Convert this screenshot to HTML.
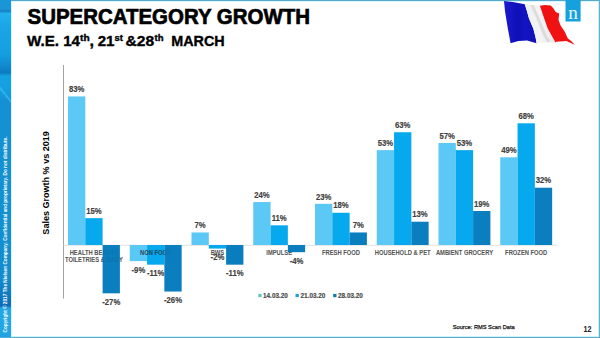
<!DOCTYPE html>
<html><head><meta charset="utf-8">
<style>
html,body{margin:0;padding:0;}
body{width:600px;height:338px;overflow:hidden;background:#fff;position:relative;font-family:"Liberation Sans",sans-serif;}
.abs{position:absolute;}
.cl{font-size:6.4px;font-weight:bold;fill:#555555;stroke:#555555;stroke-width:0.05px;text-anchor:middle;}
.vl{font-size:8.2px;font-weight:bold;fill:#404040;stroke:#404040;stroke-width:0.15px;text-anchor:middle;}
</style></head><body>
<svg class="abs" style="left:0;top:0;font-family:'Liberation Sans',sans-serif" width="600" height="338" viewBox="0 0 600 338">
<defs>
<linearGradient id="strip" x1="0" y1="0" x2="0" y2="338" gradientUnits="userSpaceOnUse">
<stop offset="0" stop-color="#1a96d6"/>
<stop offset="0.027" stop-color="#1a96d6"/>
<stop offset="0.033" stop-color="#1582c4"/>
<stop offset="0.04" stop-color="#22b0ee"/>
<stop offset="0.08" stop-color="#1aa6e6"/>
<stop offset="0.16" stop-color="#14a0e0"/>
<stop offset="0.2" stop-color="#0f86cc"/>
<stop offset="0.215" stop-color="#0c7cc0"/>
<stop offset="0.225" stop-color="#16a2e2"/>
<stop offset="0.26" stop-color="#14a0e0"/>
<stop offset="0.3" stop-color="#1590d4"/>
<stop offset="0.6" stop-color="#1490d0"/>
<stop offset="0.82" stop-color="#138cce"/>
<stop offset="0.905" stop-color="#0c6cb8"/>
<stop offset="0.912" stop-color="#22a6e4"/>
<stop offset="1" stop-color="#20a4e2"/>
</linearGradient>
<linearGradient id="bl" x1="0" y1="0" x2="1" y2="0">
<stop offset="0" stop-color="#1a1ad0"/>
<stop offset="0.4" stop-color="#1010b8"/>
<stop offset="0.7" stop-color="#1414c4"/>
<stop offset="1" stop-color="#1010b0"/>
</linearGradient>
<linearGradient id="wh" x1="0" y1="0" x2="1" y2="0">
<stop offset="0" stop-color="#f0f0f0"/>
<stop offset="0.5" stop-color="#f4f4f4"/>
<stop offset="1" stop-color="#e8e8e8"/>
</linearGradient>
</defs>
<rect x="0" y="0" width="600" height="338" fill="#fff"/>
<rect x="0" y="0" width="11" height="338" fill="url(#strip)"/>
<path d="M0,86 L11,100 L11,103 L0,90 Z" fill="#3cc0f4" opacity="0.6"/>
<rect x="11" y="0" width="1" height="338" fill="#d4f6ff"/>
<rect x="11" y="0" width="589" height="1" fill="#5aa8d0"/>
<rect x="12" y="1" width="586" height="1" fill="#d4f8ff"/>
<rect x="598" y="1" width="1" height="336" fill="#c4f2fc"/>
<rect x="599" y="0" width="1" height="338" fill="#5ab0d8"/>
<rect x="11" y="336" width="588" height="1" fill="#c8f6fc"/>
<rect x="0" y="337" width="600" height="1" fill="#5aa9cf"/>
<text transform="translate(7.4,332.5) rotate(-90)" font-size="5.2" font-weight="bold" fill="#ffffff" textLength="196" lengthAdjust="spacingAndGlyphs">Copyright © 2017 The Nielsen Company. Confidential and proprietary. Do not distribute.</text>
<text x="27.5" y="23.6" font-size="22.5" font-weight="bold" fill="#000" stroke="#000" stroke-width="0.7" textLength="282.5" lengthAdjust="spacingAndGlyphs">SUPERCATEGORY GROWTH</text>
<text x="27.0" y="45.8" font-size="13.8" font-weight="bold" fill="#000" stroke="#000" stroke-width="0.35" textLength="32.0" lengthAdjust="spacingAndGlyphs">W.E.</text>
<text x="63.2" y="45.8" font-size="13.8" font-weight="bold" fill="#000" stroke="#000" stroke-width="0.35" textLength="16.8" lengthAdjust="spacingAndGlyphs">14</text>
<text x="80.0" y="41" font-size="8.5" font-weight="bold" fill="#000" stroke="#000" stroke-width="0.35" textLength="9.6" lengthAdjust="spacingAndGlyphs">th</text>
<text x="89.4" y="45.8" font-size="13.8" font-weight="bold" fill="#000" stroke="#000" stroke-width="0.35" textLength="4.5" lengthAdjust="spacingAndGlyphs">,</text>
<text x="97.7" y="45.8" font-size="13.8" font-weight="bold" fill="#000" stroke="#000" stroke-width="0.35" textLength="16.8" lengthAdjust="spacingAndGlyphs">21</text>
<text x="114.4" y="41" font-size="8.5" font-weight="bold" fill="#000" stroke="#000" stroke-width="0.35" textLength="8.4" lengthAdjust="spacingAndGlyphs">st</text>
<text x="125.6" y="45.8" font-size="13.8" font-weight="bold" fill="#000" stroke="#000" stroke-width="0.35" textLength="28.6" lengthAdjust="spacingAndGlyphs">&amp;28</text>
<text x="154.6" y="41" font-size="8.5" font-weight="bold" fill="#000" stroke="#000" stroke-width="0.35" textLength="9.0" lengthAdjust="spacingAndGlyphs">th</text>
<text x="171.3" y="45.8" font-size="13.8" font-weight="bold" fill="#000" stroke="#000" stroke-width="0.35" textLength="53.4" lengthAdjust="spacingAndGlyphs">MARCH</text>
<!-- flag -->
<path d="M504,1.1 L512.8,2.1 L524.8,4.3 L527,11.3 L529,18.4 L533.3,28.4 L535.5,36.9 L536.6,43.3 L527,40.4 L518.4,41.1 L510.6,43.3 L507.8,28.4 L505,11.3 Z" fill="url(#bl)"/>
<path d="M524.8,4.3 L539.9,5.7 L542.7,14.2 L547.7,28.4 L552.7,37.6 L555.5,42.6 L546.3,42.6 L536.6,43.3 L535.5,36.9 L533.3,28.4 L529,18.4 L527,11.3 Z" fill="url(#wh)"/>
<path d="M532,5.2 Q538,18 542,28.4 T549,41.5" stroke="#c4c4c4" stroke-width="3" fill="none" opacity="0.45"/>
<path d="M539.9,5.7 L545,5 L550.7,5.4 L553.5,8.5 L555.6,12 L559.2,13.5 L558.5,19.9 L560.6,25.5 L564.9,31.9 L567.7,38.3 L572,41.8 L574.8,44.7 L566.3,41.1 L556.3,41.8 L555.5,42.6 L552.7,37.6 L547.7,28.4 L542.7,14.2 Z" fill="#f01212"/>
<!-- nielsen -->
<rect x="565.5" y="0" width="15.1" height="21.5" fill="#15a0de"/>
<text x="573" y="19.2" font-size="19" style="font-family:'Liberation Serif',serif" fill="#e8f8ff" text-anchor="middle" textLength="9.6" lengthAdjust="spacingAndGlyphs">n</text>
<!-- axis -->
<rect x="63" y="65" width="0.8" height="233.5" fill="#8c8c8c"/>
<rect x="63.4" y="244.8" width="494" height="0.8" fill="#d9d9d9"/>
<text transform="translate(48.8,182.9) rotate(-90)" font-size="9" font-weight="bold" fill="#000" text-anchor="middle" textLength="103.5" lengthAdjust="spacingAndGlyphs">Sales  Growth % vs 2019</text>
<clipPath id="lm"><rect x="68.00" y="96.43" width="17.30" height="148.57" fill="#5bc8f6"/><rect x="85.30" y="218.15" width="17.30" height="26.85" fill="#07a9ee"/><rect x="129.75" y="245.00" width="17.30" height="16.11" fill="#5bc8f6"/><rect x="147.05" y="245.00" width="17.30" height="19.69" fill="#07a9ee"/><rect x="191.50" y="232.47" width="17.30" height="12.53" fill="#5bc8f6"/><rect x="208.80" y="245.00" width="17.30" height="3.58" fill="#07a9ee"/><rect x="253.25" y="202.04" width="17.30" height="42.96" fill="#5bc8f6"/><rect x="270.55" y="225.31" width="17.30" height="19.69" fill="#07a9ee"/><rect x="315.00" y="203.83" width="17.30" height="41.17" fill="#5bc8f6"/><rect x="332.30" y="212.78" width="17.30" height="32.22" fill="#07a9ee"/><rect x="376.75" y="150.13" width="17.30" height="94.87" fill="#5bc8f6"/><rect x="394.05" y="132.23" width="17.30" height="112.77" fill="#07a9ee"/><rect x="438.50" y="142.97" width="17.30" height="102.03" fill="#5bc8f6"/><rect x="455.80" y="150.13" width="17.30" height="94.87" fill="#07a9ee"/><rect x="500.25" y="157.29" width="17.30" height="87.71" fill="#5bc8f6"/><rect x="517.55" y="123.28" width="17.30" height="121.72" fill="#07a9ee"/></clipPath><clipPath id="dk"><rect x="102.60" y="245.00" width="17.30" height="48.33" fill="#0a7ebf"/><rect x="164.35" y="245.00" width="17.30" height="46.54" fill="#0a7ebf"/><rect x="226.10" y="245.00" width="17.30" height="19.69" fill="#0a7ebf"/><rect x="287.85" y="245.00" width="17.30" height="7.16" fill="#0a7ebf"/><rect x="349.60" y="232.47" width="17.30" height="12.53" fill="#0a7ebf"/><rect x="411.35" y="221.73" width="17.30" height="23.27" fill="#0a7ebf"/><rect x="473.10" y="210.99" width="17.30" height="34.01" fill="#0a7ebf"/><rect x="534.85" y="187.72" width="17.30" height="57.28" fill="#0a7ebf"/></clipPath>
<text x="93.95" y="254.7" class="cl" textLength="48.55" lengthAdjust="spacingAndGlyphs">HEALTH BEAUTY</text>
<text x="93.95" y="261.6" class="cl" textLength="57.90" lengthAdjust="spacingAndGlyphs">TOILETRIES &amp; BABY</text>
<text x="155.70" y="254.7" class="cl" textLength="31.25" lengthAdjust="spacingAndGlyphs">NON FOOD</text>
<text x="217.45" y="254.7" class="cl" textLength="13.53" lengthAdjust="spacingAndGlyphs">BWS</text>
<text x="279.20" y="254.7" class="cl" textLength="25.78" lengthAdjust="spacingAndGlyphs">IMPULSE</text>
<text x="340.95" y="254.7" class="cl" textLength="38.02" lengthAdjust="spacingAndGlyphs">FRESH FOOD</text>
<text x="402.70" y="254.7" class="cl" textLength="55.75" lengthAdjust="spacingAndGlyphs">HOUSEHOLD &amp; PET</text>
<text x="464.45" y="254.7" class="cl" textLength="57.14" lengthAdjust="spacingAndGlyphs">AMBIENT GROCERY</text>
<text x="526.20" y="254.7" class="cl" textLength="42.21" lengthAdjust="spacingAndGlyphs">FROZEN FOOD</text>
<rect x="68.00" y="96.43" width="17.30" height="148.57" fill="#5bc8f6"/>
<rect x="85.30" y="218.15" width="17.30" height="26.85" fill="#07a9ee"/>
<rect x="102.60" y="245.00" width="17.30" height="48.33" fill="#0a7ebf"/>
<rect x="129.75" y="245.00" width="17.30" height="16.11" fill="#5bc8f6"/>
<rect x="147.05" y="245.00" width="17.30" height="19.69" fill="#07a9ee"/>
<rect x="164.35" y="245.00" width="17.30" height="46.54" fill="#0a7ebf"/>
<rect x="191.50" y="232.47" width="17.30" height="12.53" fill="#5bc8f6"/>
<rect x="208.80" y="245.00" width="17.30" height="3.58" fill="#07a9ee"/>
<rect x="226.10" y="245.00" width="17.30" height="19.69" fill="#0a7ebf"/>
<rect x="253.25" y="202.04" width="17.30" height="42.96" fill="#5bc8f6"/>
<rect x="270.55" y="225.31" width="17.30" height="19.69" fill="#07a9ee"/>
<rect x="287.85" y="245.00" width="17.30" height="7.16" fill="#0a7ebf"/>
<rect x="315.00" y="203.83" width="17.30" height="41.17" fill="#5bc8f6"/>
<rect x="332.30" y="212.78" width="17.30" height="32.22" fill="#07a9ee"/>
<rect x="349.60" y="232.47" width="17.30" height="12.53" fill="#0a7ebf"/>
<rect x="376.75" y="150.13" width="17.30" height="94.87" fill="#5bc8f6"/>
<rect x="394.05" y="132.23" width="17.30" height="112.77" fill="#07a9ee"/>
<rect x="411.35" y="221.73" width="17.30" height="23.27" fill="#0a7ebf"/>
<rect x="438.50" y="142.97" width="17.30" height="102.03" fill="#5bc8f6"/>
<rect x="455.80" y="150.13" width="17.30" height="94.87" fill="#07a9ee"/>
<rect x="473.10" y="210.99" width="17.30" height="34.01" fill="#0a7ebf"/>
<rect x="500.25" y="157.29" width="17.30" height="87.71" fill="#5bc8f6"/>
<rect x="517.55" y="123.28" width="17.30" height="121.72" fill="#07a9ee"/>
<rect x="534.85" y="187.72" width="17.30" height="57.28" fill="#0a7ebf"/>
<g clip-path="url(#lm)" opacity="0.85">
<text x="93.95" y="254.7" class="cl" style="fill:#203040" textLength="48.55" lengthAdjust="spacingAndGlyphs">HEALTH BEAUTY</text>
<text x="93.95" y="261.6" class="cl" style="fill:#203040" textLength="57.90" lengthAdjust="spacingAndGlyphs">TOILETRIES &amp; BABY</text>
<text x="155.70" y="254.7" class="cl" style="fill:#203040" textLength="31.25" lengthAdjust="spacingAndGlyphs">NON FOOD</text>
<text x="217.45" y="254.7" class="cl" style="fill:#203040" textLength="13.53" lengthAdjust="spacingAndGlyphs">BWS</text>
<text x="279.20" y="254.7" class="cl" style="fill:#203040" textLength="25.78" lengthAdjust="spacingAndGlyphs">IMPULSE</text>
<text x="340.95" y="254.7" class="cl" style="fill:#203040" textLength="38.02" lengthAdjust="spacingAndGlyphs">FRESH FOOD</text>
<text x="402.70" y="254.7" class="cl" style="fill:#203040" textLength="55.75" lengthAdjust="spacingAndGlyphs">HOUSEHOLD &amp; PET</text>
<text x="464.45" y="254.7" class="cl" style="fill:#203040" textLength="57.14" lengthAdjust="spacingAndGlyphs">AMBIENT GROCERY</text>
<text x="526.20" y="254.7" class="cl" style="fill:#203040" textLength="42.21" lengthAdjust="spacingAndGlyphs">FROZEN FOOD</text>
</g><g clip-path="url(#dk)" opacity="0.12">
<text x="93.95" y="254.7" class="cl" style="fill:#203040" textLength="48.55" lengthAdjust="spacingAndGlyphs">HEALTH BEAUTY</text>
<text x="93.95" y="261.6" class="cl" style="fill:#203040" textLength="57.90" lengthAdjust="spacingAndGlyphs">TOILETRIES &amp; BABY</text>
<text x="155.70" y="254.7" class="cl" style="fill:#203040" textLength="31.25" lengthAdjust="spacingAndGlyphs">NON FOOD</text>
<text x="217.45" y="254.7" class="cl" style="fill:#203040" textLength="13.53" lengthAdjust="spacingAndGlyphs">BWS</text>
<text x="279.20" y="254.7" class="cl" style="fill:#203040" textLength="25.78" lengthAdjust="spacingAndGlyphs">IMPULSE</text>
<text x="340.95" y="254.7" class="cl" style="fill:#203040" textLength="38.02" lengthAdjust="spacingAndGlyphs">FRESH FOOD</text>
<text x="402.70" y="254.7" class="cl" style="fill:#203040" textLength="55.75" lengthAdjust="spacingAndGlyphs">HOUSEHOLD &amp; PET</text>
<text x="464.45" y="254.7" class="cl" style="fill:#203040" textLength="57.14" lengthAdjust="spacingAndGlyphs">AMBIENT GROCERY</text>
<text x="526.20" y="254.7" class="cl" style="fill:#203040" textLength="42.21" lengthAdjust="spacingAndGlyphs">FROZEN FOOD</text>
</g>
<text x="76.65" y="92.13" class="vl" textLength="15.43" lengthAdjust="spacingAndGlyphs">83%</text>
<text x="93.95" y="213.85" class="vl" textLength="15.43" lengthAdjust="spacingAndGlyphs">15%</text>
<text x="111.25" y="304.73" class="vl" textLength="17.99" lengthAdjust="spacingAndGlyphs">-27%</text>
<text x="138.40" y="272.51" class="vl" textLength="13.71" lengthAdjust="spacingAndGlyphs">-9%</text>
<text x="155.70" y="276.09" class="vl" textLength="17.57" lengthAdjust="spacingAndGlyphs">-11%</text>
<text x="173.00" y="302.94" class="vl" textLength="17.99" lengthAdjust="spacingAndGlyphs">-26%</text>
<text x="200.15" y="228.17" class="vl" textLength="11.14" lengthAdjust="spacingAndGlyphs">7%</text>
<text x="217.45" y="259.98" class="vl" textLength="13.71" lengthAdjust="spacingAndGlyphs">-2%</text>
<text x="234.75" y="276.09" class="vl" textLength="17.57" lengthAdjust="spacingAndGlyphs">-11%</text>
<text x="261.90" y="197.74" class="vl" textLength="15.43" lengthAdjust="spacingAndGlyphs">24%</text>
<text x="279.20" y="221.01" class="vl" textLength="15.00" lengthAdjust="spacingAndGlyphs">11%</text>
<text x="296.50" y="263.56" class="vl" textLength="13.71" lengthAdjust="spacingAndGlyphs">-4%</text>
<text x="323.65" y="199.53" class="vl" textLength="15.43" lengthAdjust="spacingAndGlyphs">23%</text>
<text x="340.95" y="208.48" class="vl" textLength="15.43" lengthAdjust="spacingAndGlyphs">18%</text>
<text x="358.25" y="228.17" class="vl" textLength="11.14" lengthAdjust="spacingAndGlyphs">7%</text>
<text x="385.40" y="145.83" class="vl" textLength="15.43" lengthAdjust="spacingAndGlyphs">53%</text>
<text x="402.70" y="127.93" class="vl" textLength="15.43" lengthAdjust="spacingAndGlyphs">63%</text>
<text x="420.00" y="217.43" class="vl" textLength="15.43" lengthAdjust="spacingAndGlyphs">13%</text>
<text x="447.15" y="138.67" class="vl" textLength="15.43" lengthAdjust="spacingAndGlyphs">57%</text>
<text x="464.45" y="145.83" class="vl" textLength="15.43" lengthAdjust="spacingAndGlyphs">53%</text>
<text x="481.75" y="206.69" class="vl" textLength="15.43" lengthAdjust="spacingAndGlyphs">19%</text>
<text x="508.90" y="152.99" class="vl" textLength="15.43" lengthAdjust="spacingAndGlyphs">49%</text>
<text x="526.20" y="118.98" class="vl" textLength="15.43" lengthAdjust="spacingAndGlyphs">68%</text>
<text x="543.50" y="183.42" class="vl" textLength="15.43" lengthAdjust="spacingAndGlyphs">32%</text>
<!-- legend -->
<rect x="258.3" y="293.9" width="3.3" height="3.3" fill="#5bc8c4"/>
<text x="263" y="298.2" font-size="6.4" font-weight="bold" fill="#4a4a4a" stroke="#4a4a4a" stroke-width="0.15">14.03.20</text>
<rect x="295.5" y="293.9" width="3.3" height="3.3" fill="#1aa3d0"/>
<text x="300.5" y="298.2" font-size="6.4" font-weight="bold" fill="#4a4a4a" stroke="#4a4a4a" stroke-width="0.15">21.03.20</text>
<rect x="333.2" y="293.9" width="3.3" height="3.3" fill="#0d7ea8"/>
<text x="338" y="298.2" font-size="6.4" font-weight="bold" fill="#4a4a4a" stroke="#4a4a4a" stroke-width="0.15">28.03.20</text>
<text x="452.7" y="329.2" font-size="6.2" fill="#111" stroke="#111" stroke-width="0.25" textLength="62" lengthAdjust="spacingAndGlyphs">Source: RMS Scan Data</text>
<text x="583.5" y="332.3" font-size="8.4" font-weight="bold" fill="#222" textLength="8.0" lengthAdjust="spacingAndGlyphs">12</text>
</svg>
</body></html>
